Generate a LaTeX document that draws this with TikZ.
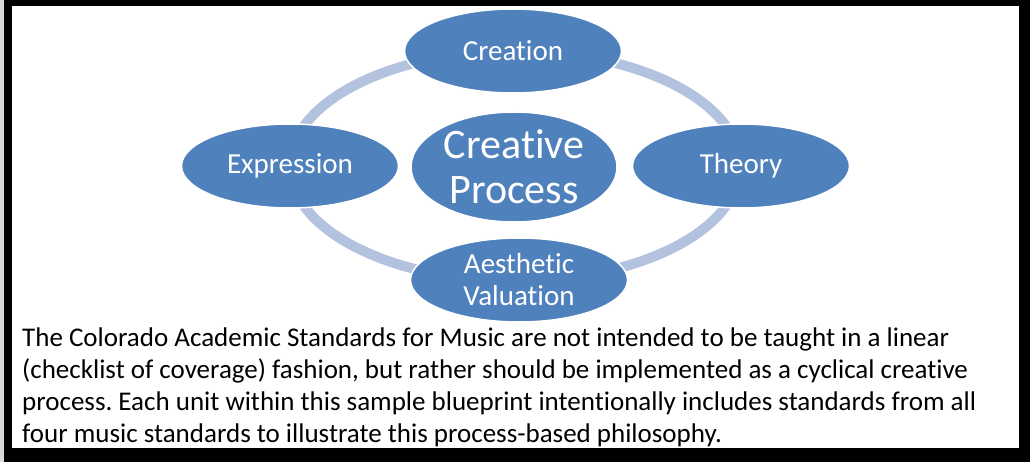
\documentclass[tikz,border=0pt]{standalone}
\usepackage{fontspec}
\setmainfont{Carlito}[RawFeature=-liga]
\usepackage{xcolor}
\usetikzlibrary{shapes.geometric}
\definecolor{bubble}{HTML}{4F81BD}
\definecolor{ringblue}{HTML}{B3C3DF}
\frenchspacing
\begin{document}
\begin{tikzpicture}[x=1pt,y=-1pt,
  stage/.style={ellipse,fill=bubble,draw=white,line width=1.5pt,inner sep=0pt,
    text=white,align=center,minimum width=217pt,minimum height=84pt,
    font=\fontsize{29}{32}\selectfont}]
\useasboundingbox (0,0) rectangle (1030,462);
\fill[gray!30] (0,0) rectangle (4,462);
\fill[black] (4,0) rectangle (1030,462);
\fill[white] (12,6) rectangle (1019,448);

\node[stage,minimum width=206pt,minimum height=110pt,
  font=\fontsize{42}{45}\selectfont] (cp) at (514,167) {Creative\\Process};
\draw[ringblue,line width=10pt] (515,166) ellipse [x radius=225pt, y radius=115pt];

\node[stage] (cre) at (513,51) {Creation};
\node[stage] (the) at (741,166) {Theory};
\node[stage] (exp) at (290,166) {Expression};
\node[stage] (aes) at (519,280) {Aesthetic\\Valuation};

\node[anchor=north west,align=left,inner sep=0pt,
  font=\fontsize{27}{32}\selectfont] (txt) at (22,328)
  {The Colorado Academic Standards for Music are not intended to be taught in a linear\\
   (checklist of coverage) fashion, but rather should be implemented as a cyclical creative\\
   process. Each unit within this sample blueprint intentionally includes standards from all\\
   four music standards to illustrate this process-based philosophy.};
\end{tikzpicture}
\end{document}
